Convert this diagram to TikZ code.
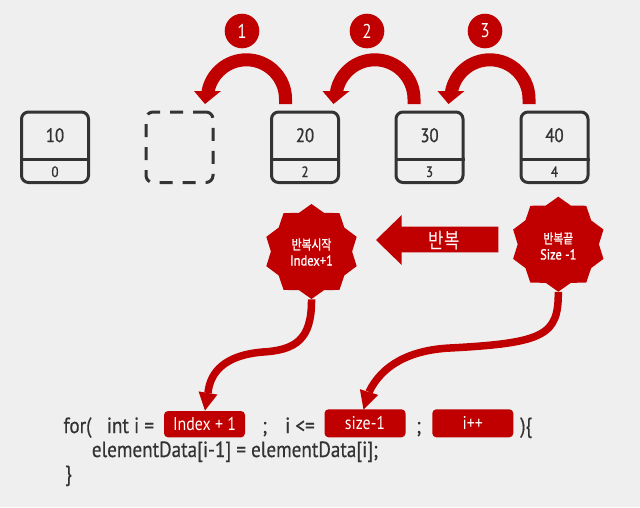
\documentclass[tikz,border=0pt]{standalone}
\usepackage{fontspec}
\setmainfont{PT Sans}[FakeStretch=0.86]
\newfontfamily\boldish{PT Sans}[FakeStretch=0.86,FakeBold=1]
\newfontfamily\codefont{PT Sans}[FakeStretch=0.87,FakeBold=0.5]
\newfontfamily\kr{Noto Sans CJK KR}[FakeStretch=0.8]
\newfontfamily\krb{Noto Sans CJK KR}[FakeStretch=0.8,FakeBold=1]
\usetikzlibrary{shapes.geometric,calc}
\definecolor{kred}{HTML}{C00000}
\definecolor{bg}{HTML}{EFEFEF}
\definecolor{ink}{HTML}{333333}
\newcommand\fs[1]{\fontsize{#1}{#1}\selectfont}
\begin{document}
\begin{tikzpicture}[x=1pt,y=-1pt,
  cell/.style={draw=ink,line width=3pt,rounded corners=7pt,minimum width=67pt,minimum height=70.5pt,inner sep=0pt},
  ghost/.style={cell,dash pattern=on 13pt off 10pt},
  num/.style={text=ink,inner sep=0pt,font=\boldish\fs{19.5}},
  idx/.style={text=ink,inner sep=0pt,font=\boldish\fs{15}},
  badge/.style={circle,fill=kred,minimum size=34.6pt,inner sep=0pt,text=white,font=\fs{20}},
  burst/.style={star,star points=10,star point ratio=1.17,minimum size=95pt,inner sep=0pt,fill=kred},
  bursttext/.style={text=white,align=center,inner sep=0pt,font=\boldish\fontsize{14.5}{16}\selectfont},
  arcarrow/.style={kred,line width=13pt},
  linkline/.style={kred,line width=7.5pt},
  code/.style={text=ink,inner sep=0pt,anchor=base west,font=\codefont\fs{22}},
  lbl/.style={fill=kred,rounded corners=4pt,minimum width=81pt,inner sep=0pt,text=white,font=\fs{18.5}}
]
\fill[bg] (0,0) rectangle (640,507);
\useasboundingbox (0,0) rectangle (640,507);

% boxes
\node[cell] (b10) at (55,147.25) {};
\node[ghost] (bgh) at (179.5,147.25) {};
\node[cell] (b20) at (305,147.25) {};
\node[cell] (b30) at (429.5,147.25) {};
\node[cell] (b40) at (554.5,147.25) {};
\foreach \b/\v/\i in {b10/10/0,b20/20/2,b30/30/3,b40/40/4}{
  \draw[ink,line width=3pt] ([yshift=-11.75pt]\b.west) -- ([yshift=-11.75pt]\b.east);
  \node[num] (\b n) at ($(\b.center)+(0,-12)$) {\v};
  \node[idx] (\b i) at ($(\b.center)+(0,24.5)$) {\i};
}

% curved move arrows
\foreach \s in {0,128.5,243.5}{
  \begin{scope}[xshift=\s pt]
    \draw[arcarrow] (285.5,104) -- (285.5,98.9) arc[start angle=0,end angle=-170,radius=39.1];
    \fill[kred] (194,91) -- (221,91) -- (205,104) -- cycle;
  \end{scope}
}
\node[badge] (c1) at (242,31) {1};
\node[badge] (c2) at (367,31) {2};
\node[badge] (c3) at (485,31) {3};

% stars
\node[burst] (sL) at (311.5,251.5) {};
\node[bursttext] at (311.5,252) {{\krb\fontsize{13.5}{16}\selectfont 반복시작}\\Index+1};
\node[burst] (sR) at (558.3,244.2) {};
\node[bursttext] at (558.3,246) {{\krb\fontsize{13.5}{16}\selectfont 반복끝}\\Size -1};

% repeat block arrow
\fill[kred] (498.3,226.7) -- (401.7,226.7) -- (401.7,215) -- (376,240) -- (401.7,265) -- (401.7,252.3) -- (498.3,252.3) -- cycle;
\node[text=white,inner sep=0pt,font=\kr\fs{21}] (rep) at (444.3,240.8) {반복};

% code labels
\node[lbl,minimum height=26.3pt] (k1) at (204.5,424.2) {Index + 1};
\node[lbl,minimum height=28pt] (k2) at (365,423.3) {size-1};
\node[lbl,minimum height=28pt] (k3) at (472.8,423.3) {i++};

% links from stars
\draw[linkline] (sL.south) .. controls (312,340) and (295,350) .. (263,352) .. controls (225,355) and (210,372) .. (208,393);
\fill[kred] (198.6,391.4) -- (217.4,394.6) -- (205,410.5) -- cycle;
\draw[linkline] (sR.south) .. controls (558.5,335) and (545,343) .. (450,348) .. controls (410,350) and (382,365) .. (369,392);
\fill[kred] (359.9,389.2) -- (378.1,394.9) -- (363.5,409.5) -- cycle;

% code
\node[code] (t1) at (63.3,433) {for(};
\node[code] (t2) at (106.7,433) {int i =};
\node[code] (t3) at (262,433) {;};
\node[code] (t4) at (285,433) {i <=};
\node[code] (t5) at (416,433) {;};
\node[code] (t6) at (520,433) {)\{};
\node[code] (t7) at (91.7,457) {elementData[i-1] = elementData[i];};
\node[code] (t8) at (65,481) {\}};
\end{tikzpicture}
\end{document}
